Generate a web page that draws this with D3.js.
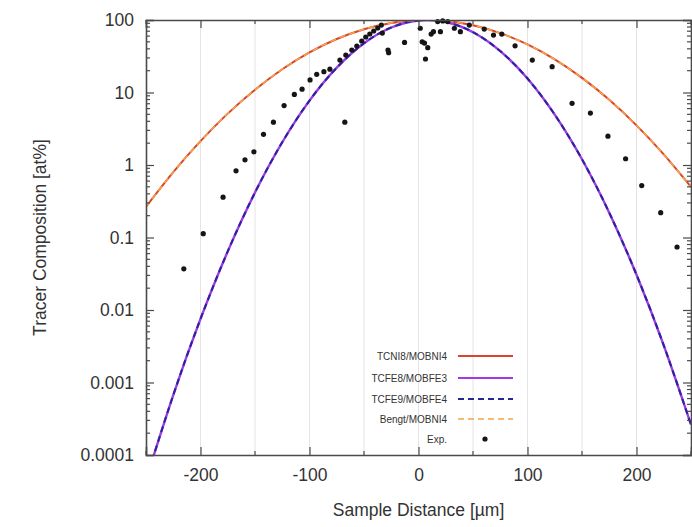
<!DOCTYPE html>
<html>
<head>
<meta charset="utf-8">
<script src="https://cdn.jsdelivr.net/npm/d3@7"></script>
<style>
  body { margin: 0; background: #fff; }
  #chart { width: 692px; height: 527px; }
  text { font-family: "Liberation Sans", Arial, sans-serif; fill: #333; }
</style>
</head>
<body>
<div id="chart"></div>
<script>
// distance grid the model curves were read at (µm)
const modelX = [-250, -225, -200, -175, -150, -125, -100, -75, -50, -25, 0,
                25, 50, 75, 100, 125, 150, 175, 200, 225, 250];

// TCNI8/MOBNI4 and Bengt/MOBNI4 (wide profile, at%)
const tcni8 = [0.265, 0.796, 2.13, 5.11, 10.9, 20.9, 35.8, 54.7, 74.7, 91.2, 99.6,
               97.1, 84.7, 66.0, 46.0, 28.6, 15.9, 7.93, 3.52, 1.40, 0.498];
const bengt = [0.265, 0.796, 2.13, 5.11, 10.9, 20.9, 35.8, 54.7, 74.7, 91.2, 99.6,
               97.1, 84.7, 66.0, 46.0, 28.6, 15.9, 7.93, 3.52, 1.40, 0.498];

// TCFE8/MOBFE3 and TCFE9/MOBFE4 (narrow profile, at%)
const tcfe8 = [0.0000453, 0.00067, 0.00753, 0.0644, 0.418, 2.06, 7.73, 22.0, 47.8, 78.8, 98.6,
               93.8, 67.9, 37.3, 15.6, 4.95, 1.20, 0.220, 0.0307, 0.00325, 0.000262];
const tcfe9 = [0.0000453, 0.00067, 0.00753, 0.0644, 0.418, 2.06, 7.73, 22.0, 47.8, 78.8, 98.6,
               93.8, 67.9, 37.3, 15.6, 4.95, 1.20, 0.220, 0.0307, 0.00325, 0.000262];

// measured points
const expX = [-215.3, -197.5, -179.3, -167.4, -159.2, -151, -142.2, -133.1, -123.3, -113.9,
              -106.8, -99.5, -93.4, -86.8, -81.3, -67.6,
              -72.1, -66.7, -61.2, -56.6, -52.1, -48.4, -44.7, -41.1, -37.4,
              -34.1, -33.2, -28, -27.4, -12.8, 1.6, 3.4, 5.5, 8.5, 6.4, 11.6, 13.7, 20.1,
              17.6, 22.2, 26.8, 32.9, 38.4, 46.6, 60.3, 68.8, 76.4, 88.6,
              104.4, 122.6, 140.9, 157.7, 173.8, 190, 204.8, 222.2, 237.2];
const expY = [0.037, 0.113, 0.36, 0.83, 1.18, 1.52, 2.65, 3.9, 6.6, 9.4,
              11.1, 14.9, 17.8, 19.4, 21, 3.9,
              28, 32.9, 38.5, 43.8, 51.3, 58.3, 64.1, 70.5, 77.6,
              85, 66, 38.5, 35.4, 49, 77, 50, 48, 41.5, 29, 64, 69, 69,
              95, 97, 95, 77, 69, 85, 75, 62, 64, 44,
              28, 22.7, 7.1, 5.2, 2.5, 1.22, 0.52, 0.22, 0.074];

const xTicks = [-200, -100, 0, 100, 200];
const xTickLabels = ['-200', '-100', '0', '100', '200'];
const xMinorTicks = [-250, -150, -50, 50, 150, 250];
const xGrid = [-200, -150, -100, -50, 0, 50, 100, 150, 200];
const yTicks = [100, 10, 1, 0.1, 0.01, 0.001, 0.0001];
const yTickLabels = ['100', '10', '1', '0.1', '0.01', '0.001', '0.0001'];

const seriesNames = ['TCNI8/MOBNI4', 'TCFE8/MOBFE3', 'TCFE9/MOBFE4', 'Bengt/MOBNI4', 'Exp.'];

class ProfileChart {
    constructor(containerId) {
        this.containerId = containerId;
        this.width = 692;
        this.height = 527;
        this.plot = { left: 146, right: 691, top: 20, bottom: 455 };
    }

    init() {
        this.svg = d3.select(`#${this.containerId}`)
            .append('svg')
            .attr('width', this.width)
            .attr('height', this.height);

        this.xScale = d3.scaleLinear()
            .domain([-250, 250])
            .range([this.plot.left, this.plot.right]);

        this.yScale = d3.scaleLog()
            .domain([0.0001, 100])
            .range([this.plot.bottom, this.plot.top]);

        this.drawGrid();
        this.drawCurves();
        this.drawPoints();
        this.drawAxes();
        this.drawLegend();
    }

    drawGrid() {
        this.svg.append('g')
            .selectAll('line')
            .data(xGrid)
            .enter()
            .append('line')
            .attr('x1', d => this.xScale(d))
            .attr('x2', d => this.xScale(d))
            .attr('y1', this.plot.top)
            .attr('y2', this.plot.bottom)
            .attr('stroke', '#e4e4e4')
            .attr('stroke-width', 1);
    }

    drawCurves() {
        this.svg.append('clipPath')
            .attr('id', 'plot-clip')
            .append('rect')
            .attr('x', this.plot.left)
            .attr('y', this.plot.top)
            .attr('width', this.plot.right - this.plot.left)
            .attr('height', this.plot.bottom - this.plot.top);

        const line = d3.line()
            .x(d => this.xScale(d[0]))
            .y(d => this.yScale(d[1]))
            .curve(d3.curveNatural);

        const curves = [
            { values: tcni8, color: '#d8452f', dash: null, width: 2 },
            { values: tcfe8, color: '#a238e8', dash: null, width: 2.4 },
            { values: tcfe9, color: '#262696', dash: '6,4', width: 2 },
            { values: bengt, color: '#f3a447', dash: '6,4', width: 1.6 }
        ];

        const g = this.svg.append('g').attr('clip-path', 'url(#plot-clip)');
        curves.forEach(c => {
            g.append('path')
                .datum(modelX.map((x, i) => [x, c.values[i]]))
                .attr('fill', 'none')
                .attr('stroke', c.color)
                .attr('stroke-width', c.width)
                .attr('stroke-dasharray', c.dash)
                .attr('d', line);
        });
    }

    drawPoints() {
        this.svg.append('g')
            .selectAll('circle')
            .data(expX.map((x, i) => [x, expY[i]]))
            .enter()
            .append('circle')
            .attr('cx', d => this.xScale(d[0]))
            .attr('cy', d => this.yScale(d[1]))
            .attr('r', 2.6)
            .attr('fill', '#151515');
    }

    drawAxes() {
        const p = this.plot;
        const axisColor = '#4a4a4a';

        // bottom / top
        const bottom = this.svg.append('g')
            .attr('transform', `translate(0,${p.bottom})`)
            .call(d3.axisBottom(this.xScale).tickValues(xTicks).tickSize(-8).tickPadding(14)
                .tickFormat((d, i) => xTickLabels[i]));
        const top = this.svg.append('g')
            .attr('transform', `translate(0,${p.top})`)
            .call(d3.axisTop(this.xScale).tickValues(xTicks).tickSize(-8).tickFormat(''));

        [bottom, top].forEach((ax, i) => {
            ax.selectAll('.x-minor')
                .data(xMinorTicks)
                .enter()
                .append('line')
                .attr('x1', d => this.xScale(d))
                .attr('x2', d => this.xScale(d))
                .attr('y1', 0)
                .attr('y2', i === 0 ? -4 : 4);
        });

        // left / right
        const minor = [];
        for (let e = -4; e < 2; e++) {
            for (let m = 2; m <= 9; m++) minor.push(m * Math.pow(10, e));
        }

        const left = this.svg.append('g')
            .attr('transform', `translate(${p.left},0)`)
            .call(d3.axisLeft(this.yScale).tickValues(yTicks).tickSize(-8).tickPadding(12)
                .tickFormat((d, i) => yTickLabels[i]));
        const right = this.svg.append('g')
            .attr('transform', `translate(${p.right},0)`)
            .call(d3.axisRight(this.yScale).tickValues(yTicks).tickSize(-8).tickFormat(''));

        [left, right].forEach((ax, i) => {
            ax.selectAll('.y-minor')
                .data(minor)
                .enter()
                .append('line')
                .attr('x1', 0)
                .attr('x2', i === 0 ? 4 : -4)
                .attr('y1', d => this.yScale(d))
                .attr('y2', d => this.yScale(d));
        });

        [bottom, top, left, right].forEach(ax => {
            ax.selectAll('line').attr('stroke', axisColor).attr('stroke-width', 1.2);
            ax.select('.domain').attr('stroke', axisColor).attr('stroke-width', 1.6);
            ax.selectAll('text')
                .style('font-family', '"Liberation Sans", Arial, sans-serif')
                .style('font-size', '17.5px')
                .attr('fill', '#333');
        });

        this.svg.append('text')
            .attr('x', (p.left + p.right) / 2)
            .attr('y', 516)
            .attr('text-anchor', 'middle')
            .style('font-size', '17.5px')
            .text('Sample Distance [µm]');

        this.svg.append('text')
            .attr('transform', `translate(46,${(p.top + p.bottom) / 2}) rotate(-90)`)
            .attr('text-anchor', 'middle')
            .style('font-size', '17.5px')
            .text('Tracer Composition [at%]');
    }

    drawLegend() {
        const rowsY = [356, 378, 399, 419, 439];
        const styles = [
            { color: '#d8452f', dash: null, width: 2 },
            { color: '#a238e8', dash: null, width: 2 },
            { color: '#262696', dash: '6,4', width: 1.8 },
            { color: '#f3a447', dash: '6,4', width: 1.6 }
        ];
        const g = this.svg.append('g');

        seriesNames.forEach((name, i) => {
            g.append('text')
                .attr('x', 447)
                .attr('y', rowsY[i])
                .attr('dy', '0.35em')
                .attr('text-anchor', 'end')
                .style('font-size', '10px')
                .attr('fill', '#444')
                .text(name);

            if (i < styles.length) {
                g.append('line')
                    .attr('x1', 458)
                    .attr('x2', 513)
                    .attr('y1', rowsY[i])
                    .attr('y2', rowsY[i])
                    .attr('stroke', styles[i].color)
                    .attr('stroke-width', styles[i].width)
                    .attr('stroke-dasharray', styles[i].dash);
            } else {
                g.append('circle')
                    .attr('cx', 485)
                    .attr('cy', rowsY[i])
                    .attr('r', 2.6)
                    .attr('fill', '#151515');
            }
        });
    }
}

const chart = new ProfileChart('chart');
chart.init();
</script>
</body>
</html>
